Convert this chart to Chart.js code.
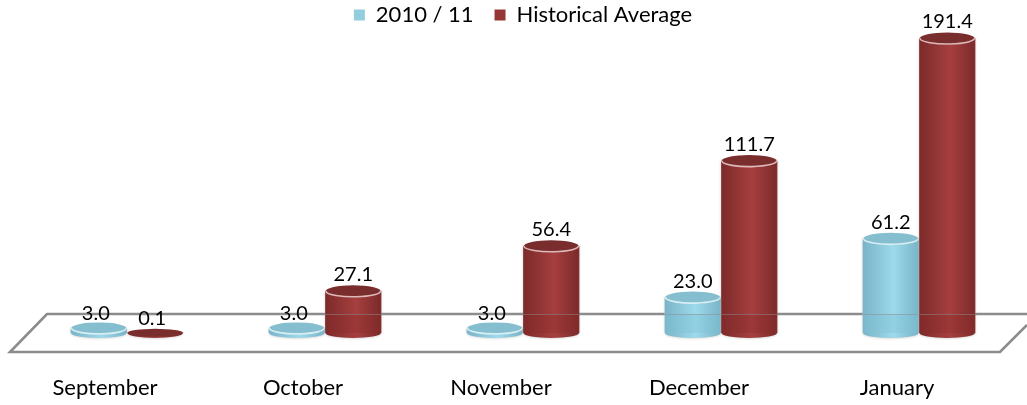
<!DOCTYPE html>
<html>
<head>
<meta charset="utf-8">
<style>
html, body { margin: 0; padding: 0; background: #fff; }
#wrap { width: 1027px; height: 405px; }
</style>
<script src="https://cdn.jsdelivr.net/npm/chart.js@4"></script>
</head>
<body>
<div id="wrap"><canvas id="myChart" width="1027" height="405"></canvas></div>
<script>
var months = ["September", "October", "November", "December", "January"];
var season = [3.0, 3.0, 3.0, 23.0, 61.2];
var average = [0.1, 27.1, 56.4, 111.7, 191.4];

var fontName = "Lato";
var looks = [
    { edge: "#79b4c8", mid: "#9ddaeb", cap: "#85bfcf", rim: "rgba(225,243,248,0.9)", foot: "#7fc0d3" },
    { edge: "#7c2a2a", mid: "#a63f3f", cap: "#7a2d2d", rim: "rgba(240,210,210,0.85)", foot: "#8a2a2a" }
];

var cylinder = {
    id: "cylinder",
    beforeDatasetsDraw: function (chart) {
        // floor, sized off the zero line of the value scale
        var ctx = chart.ctx;
        var a = chart.chartArea;
        var y0 = chart.scales.y.getPixelForValue(0);
        ctx.save();
        ctx.strokeStyle = "#8c8c8c";
        ctx.lineWidth = 2.6;
        ctx.beginPath();
        ctx.moveTo(chart.width, y0 - 19);
        ctx.lineTo(a.left + 19, y0 - 19);
        ctx.lineTo(a.left - 18, y0 + 19);
        ctx.lineTo(a.right - 18, y0 + 19);
        ctx.lineTo(chart.width, y0 - 8);
        ctx.stroke();
        ctx.restore();
    },
    afterDatasetsDraw: function (chart) {
        var ctx = chart.ctx;
        var y0 = chart.scales.y.getPixelForValue(0);
        chart.data.datasets.forEach(function (ds, i) {
            var look = looks[i];
            chart.getDatasetMeta(i).data.forEach(function (bar, j) {
                var rx = bar.width / 2 - 0.5;
                var top = bar.y;
                var left = bar.x - rx;
                var g = ctx.createLinearGradient(left, 0, left + rx * 2, 0);
                g.addColorStop(0, look.edge);
                g.addColorStop(0.55, look.mid);
                g.addColorStop(1, look.edge);
                var ryBase = 5;
                var ryCap = ds.data[j] < 1 ? 4 : 6;

                ctx.save();
                // body and round foot
                ctx.fillStyle = g;
                ctx.shadowColor = "rgba(170,170,170,0.8)";
                ctx.shadowBlur = 3;
                ctx.beginPath();
                ctx.moveTo(left, top);
                ctx.lineTo(left, y0);
                ctx.ellipse(bar.x, y0, rx, ryBase, 0, Math.PI, 0, true);
                ctx.lineTo(left + rx * 2, top);
                ctx.closePath();
                ctx.fill();
                ctx.shadowBlur = 0;

                // darker band where the floor line passes behind
                if (ds.data[j] > 20) {
                    ctx.globalAlpha = 0.35;
                    ctx.fillStyle = look.foot;
                    ctx.fillRect(left, y0 - 19, rx * 2, 19);
                    ctx.globalAlpha = 0.5;
                    ctx.fillStyle = "#8c8c8c";
                    ctx.fillRect(left, y0 - 19, rx * 2, 1);
                    ctx.globalAlpha = 1;
                }

                // cap
                ctx.fillStyle = look.cap;
                ctx.beginPath();
                ctx.ellipse(bar.x, top, rx, ryCap, 0, 0, Math.PI * 2);
                ctx.fill();
                if (ds.data[j] > 1) {
                    // rim shows mostly on the near edge
                    ctx.strokeStyle = look.rim;
                    ctx.lineWidth = 1.6;
                    ctx.beginPath();
                    ctx.ellipse(bar.x, top, rx - 0.5, ryCap - 0.5, 0, -0.1, Math.PI + 0.1);
                    ctx.stroke();
                }
                ctx.restore();

                // value text
                ctx.save();
                ctx.fillStyle = "#000";
                ctx.font = "20px " + fontName;
                ctx.textAlign = "center";
                ctx.textBaseline = "alphabetic";
                ctx.fillText(ds.data[j].toFixed(1), bar.x - (ds.data[j] < 5 ? 3 : 0), top - (ds.data[j] < 5 ? 8 : 10));
                ctx.restore();
            });
        });
    }
};

window.onload = function () {
    var ctx = document.getElementById("myChart").getContext("2d");
    new Chart(ctx, {
        type: "bar",
        data: {
            labels: months,
            datasets: [
                { label: "2010 / 11", data: season, backgroundColor: "#93cddd" },
                { label: "Historical Average", data: average, backgroundColor: "#953735" }
            ]
        },
        options: {
            responsive: false,
            animation: false,
            layout: { padding: { left: 28, right: 9, top: 0, bottom: 0 } },
            datasets: { bar: { categoryPercentage: 0.57, barPercentage: 1 } },
            plugins: {
                tooltip: { enabled: false },
                legend: {
                    position: "top",
                    labels: {
                        boxWidth: 11,
                        boxHeight: 11,
                        padding: 4,
                        color: "#000",
                        font: { family: fontName, size: 22 },
                        generateLabels: function (chart) {
                            var items = Chart.defaults.plugins.legend.labels.generateLabels(chart);
                            // the vertical label padding is small, so the gap between items comes from spaces
                            items[0].text += "\u00a0\u00a0\u00a0";
                            return items;
                        }
                    }
                }
            },
            scales: {
                y: { display: false, min: 0, max: 193 },
                x: {
                    grid: { display: false },
                    border: { display: false },
                    afterFit: function (scale) {
                        scale.height = 72;
                    },
                    ticks: {
                        color: "#000",
                        font: { family: fontName, size: 22 },
                        padding: 34,
                        labelOffset: -22,
                        maxRotation: 0,
                        autoSkip: false
                    }
                }
            }
        },
        plugins: [cylinder]
    });
};
</script>
</body>
</html>
